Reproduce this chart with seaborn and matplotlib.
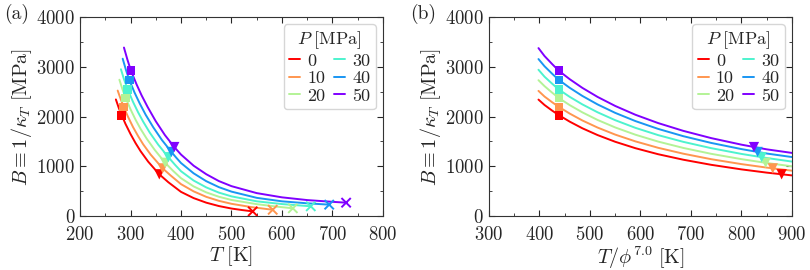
import numpy as np
import pandas as pd
import matplotlib
matplotlib.use("Agg")
import matplotlib.pyplot as plt
from matplotlib.ticker import MultipleLocator
import seaborn as sns

# Data ===============================================================================
P_LABELS = ["0", "10", "20", "30", "40", "50"]

# panel (a): B vs T, one curve per pressure
T_A_0 = [271, 277, 282.5, 290, 300, 310, 320, 335, 357, 375, 400, 425, 450, 475, 500, 520, 542]
B_A_0 = [2343, 2165, 2026, 1852, 1648, 1465, 1302, 1092, 838, 678, 485, 360, 268, 200, 150, 121, 93]
T_A_10 = [274.6, 280, 286.5, 295, 305, 315, 325, 340, 363.7, 380, 400, 425, 450, 475, 500, 540, 581.6]
B_A_10 = [2521, 2365, 2192, 1995, 1787, 1607, 1442, 1233, 957, 810, 640, 495, 385, 305, 245, 178, 125]
T_A_20 = [278, 284, 290.5, 300, 310, 320, 332, 348, 368.7, 385, 400, 425, 450, 475, 500, 550, 590, 621.5]
B_A_20 = [2739, 2548, 2370, 2145, 1935, 1750, 1555, 1328, 1069, 901, 760, 595, 475, 387, 322, 238, 188, 155]
T_A_30 = [281, 287, 294.5, 305, 315, 325, 338, 355, 375, 388, 400, 425, 450, 475, 500, 550, 600, 657]
B_A_30 = [2950, 2752, 2541, 2293, 2085, 1898, 1678, 1432, 1182, 1031, 900, 713, 575, 470, 395, 295, 240, 195]
T_A_40 = [284.5, 291, 297.6, 308, 318, 330, 345, 362, 381, 390, 400, 425, 450, 475, 500, 550, 600, 650, 693.5]
B_A_40 = [3162, 2935, 2733, 2481, 2267, 2035, 1784, 1530, 1287, 1179, 1065, 858, 700, 580, 490, 365, 295, 255, 228]
T_A_50 = [287, 294, 301, 312, 322, 334, 350, 368, 386.7, 400, 425, 450, 475, 500, 550, 600, 650, 700, 727]
B_A_50 = [3386, 3138, 2917, 2645, 2424, 2189, 1905, 1628, 1386, 1235, 1011, 840, 702, 600, 460, 375, 320, 285, 268]

# panel (b): B vs T/phi^7, shared x grid
X_B = [398, 410, 425, 438.6, 460, 485, 515, 550, 590, 635, 685, 740, 800, 850, 900]
B_B_0 = [2340, 2231, 2119, 2026, 1896, 1763, 1627, 1492, 1363, 1242, 1131, 1029, 937, 872, 816]
B_B_10 = [2515, 2401, 2287, 2192, 2058, 1920, 1778, 1636, 1500, 1371, 1252, 1142, 1043, 973, 911]
B_B_20 = [2730, 2610, 2480, 2370, 2228, 2083, 1931, 1780, 1634, 1496, 1368, 1250, 1143, 1066, 999]
B_B_30 = [2940, 2800, 2660, 2541, 2394, 2243, 2085, 1926, 1772, 1626, 1490, 1364, 1248, 1166, 1094]
B_B_40 = [3155, 3010, 2860, 2733, 2576, 2413, 2243, 2073, 1908, 1751, 1604, 1469, 1345, 1256, 1185]
B_B_50 = [3375, 3215, 3055, 2917, 2749, 2575, 2394, 2212, 2035, 1868, 1711, 1566, 1434, 1340, 1268]

# special points
SQ_T = [282.5, 286.5, 290.5, 294.5, 297.6, 301]
SQ_B = [2026, 2192, 2370, 2541, 2733, 2917]
SQ_X = [438.6, 438.6, 438.6, 438.6, 438.6, 438.6]
TRI_T = [357, 363.7, 368.7, 375, 381, 386.7]
TRI_B = [838, 957, 1069, 1182, 1287, 1386]
TRI_X = [879.6, 862, 848, 840, 832, 824.8]
END_T = [542, 581.6, 621.5, 657, 693.5, 727]
END_B = [93, 125, 155, 195, 228, 268]

# ==============================================================================
sns.set_style("ticks")
plt.rcParams.update({
    "font.family": "serif",
    "font.serif": ["cmr10", "DejaVu Serif"],
    "mathtext.fontset": "cm",
    "axes.formatter.use_mathtext": True,
    "font.size": 13,
    "axes.linewidth": 0.8,
    "axes.edgecolor": "0.2",
})

cols = plt.get_cmap("rainbow")(np.linspace(1, 0, 6))
pal = {p: cols[i] for i, p in enumerate(P_LABELS)}


def frame(xs, ys, p):
    return pd.DataFrame({"x": xs, "B": ys, "P": p})


df_a = pd.concat([frame(T_A_0, B_A_0, "0"), frame(T_A_10, B_A_10, "10"),
                  frame(T_A_20, B_A_20, "20"), frame(T_A_30, B_A_30, "30"),
                  frame(T_A_40, B_A_40, "40"), frame(T_A_50, B_A_50, "50")])
df_b = pd.concat([frame(X_B, B_B_0, "0"), frame(X_B, B_B_10, "10"),
                  frame(X_B, B_B_20, "20"), frame(X_B, B_B_30, "30"),
                  frame(X_B, B_B_40, "40"), frame(X_B, B_B_50, "50")])

sq_a = pd.DataFrame({"x": SQ_T, "B": SQ_B, "P": P_LABELS})
tri_a = pd.DataFrame({"x": TRI_T, "B": TRI_B, "P": P_LABELS})
end_a = pd.DataFrame({"x": END_T, "B": END_B, "P": P_LABELS})
sq_b = pd.DataFrame({"x": SQ_X, "B": SQ_B, "P": P_LABELS})
tri_b = pd.DataFrame({"x": TRI_X, "B": TRI_B, "P": P_LABELS})

fig = plt.figure(figsize=(8.1, 2.7), dpi=100)
ax_a = fig.add_axes([0.0988, 0.2, 0.374, 0.737])
ax_b = fig.add_axes([0.6037, 0.2, 0.374, 0.737])


def draw(ax, df, marks):
    sns.lineplot(data=df, x="x", y="B", hue="P", hue_order=P_LABELS, palette=pal,
                 estimator=None, sort=False, lw=1.4, ax=ax)
    for d, m, s in marks:
        kw = dict(linewidth=1.4) if m == "x" else dict(linewidth=0)
        sns.scatterplot(data=d, x="x", y="B", hue="P", hue_order=P_LABELS, palette=pal,
                        marker=m, s=s, legend=False, zorder=3, ax=ax, **kw)
    h, l = ax.get_legend_handles_labels()
    ax.legend(h, l, title=r"$P\ [\mathrm{MPa}]$", ncol=2, loc="upper right",
              handlelength=0.6, handletextpad=0.4, columnspacing=0.5,
              labelspacing=0.1, borderpad=0.3, fontsize=13, title_fontsize=13,
              frameon=True, edgecolor="0.8", borderaxespad=0.4)
    ax.set_ylim(0, 4000)
    ax.yaxis.set_major_locator(MultipleLocator(1000))
    ax.yaxis.set_minor_locator(MultipleLocator(500))
    ax.xaxis.set_major_locator(MultipleLocator(100))
    ax.xaxis.set_minor_locator(MultipleLocator(50))
    ax.tick_params(which="both", direction="in", top=True, right=True, labelsize=13.5)
    ax.tick_params(which="major", length=4)
    ax.tick_params(which="minor", length=2)
    ax.tick_params(axis="x", pad=7)
    ax.set_ylabel(r"$B \equiv 1/\kappa_T\ [\mathrm{MPa}]$", fontsize=14.5, labelpad=2)


draw(ax_a, df_a, [(sq_a, "s", 40), (tri_a, "v", 55), (end_a, "x", 45)])
ax_a.set_xlim(200, 800)
ax_a.set_xlabel(r"$T\ [\mathrm{K}]$", fontsize=14.5, labelpad=0.5)

draw(ax_b, df_b, [(sq_b, "s", 40), (tri_b, "v", 55)])
ax_b.set_xlim(300, 900)
ax_b.set_xlabel(r"$T/\phi^{7.0}\ [\mathrm{K}]$", fontsize=14.5, labelpad=0.5)

fig.text(0.005, 0.985, "(a)", fontsize=14, va="top")
fig.text(0.506, 0.985, "(b)", fontsize=14, va="top")

fig.savefig("out.png", dpi=100)
